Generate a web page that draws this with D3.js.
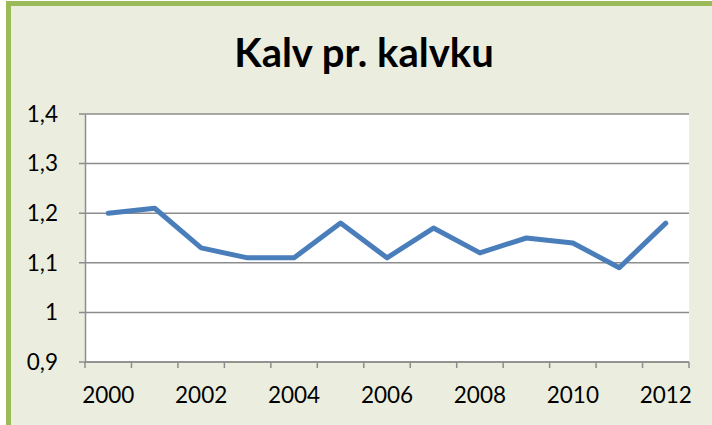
<!DOCTYPE html>
<html>
<head>
<meta charset="utf-8">
<script src="https://cdn.jsdelivr.net/npm/d3@7"></script>
<style>
  body { margin: 0; background: #fff; }
  svg { display: block; }
</style>
</head>
<body>
<div id="chart"></div>
<script>
var years = [2000, 2001, 2002, 2003, 2004, 2005, 2006, 2007, 2008, 2009, 2010, 2011, 2012];
var calves = [1.20, 1.21, 1.13, 1.11, 1.11, 1.18, 1.11, 1.17, 1.12, 1.15, 1.14, 1.09, 1.18];
var yTicks = [0.9, 1.0, 1.1, 1.2, 1.3, 1.4];
var title = "Kalv pr. kalvku";

var width = 712;
var height = 425;
var font = "Lato, 'Open Sans', sans-serif";

var margin = ({
    top: 114,
    right: 23,
    bottom: 63,
    left: 85
});

var svg = d3.select("#chart")
    .append("svg")
    .attr("width", width)
    .attr("height", height);

// chart area with green frame (cut off at right/bottom like the screenshot)
svg.append("rect")
    .attr("x", 8.5)
    .attr("y", 3.5)
    .attr("width", width + 20)
    .attr("height", height + 20)
    .attr("fill", "#ebeedf")
    .attr("stroke", "#9bbb59")
    .attr("stroke-width", 5);

var x = d3.scaleBand()
    .domain(years)
    .range([margin.left, width - margin.right]);

var y = d3.scaleLinear()
    .domain([0.9, 1.4])
    .range([height - margin.bottom, margin.top]);

var fmt = d => d3.format(".1f")(d).replace(".", ",").replace(",0", "");

// plot area
svg.append("rect")
    .attr("x", margin.left)
    .attr("y", margin.top)
    .attr("width", width - margin.left - margin.right)
    .attr("height", height - margin.top - margin.bottom)
    .attr("fill", "#fff");

// gridlines
svg.append("g")
    .selectAll("line")
    .data(yTicks)
    .enter().append("line")
        .attr("x1", margin.left - 6)
        .attr("x2", width - margin.right)
        .attr("y1", d => y(d))
        .attr("y2", d => y(d))
        .attr("stroke", "#8c8c8c")
        .attr("stroke-width", 1.5);

var yAxis = g => g
    .attr("transform", `translate(${margin.left}, 0)`)
    .call(d3.axisLeft(y).tickValues(yTicks).tickFormat(fmt).tickSize(0).tickPadding(27))
    .call(g => g.select(".domain").attr("stroke", "#8c8c8c").attr("stroke-width", 1.5))
    .call(g => g.selectAll("text")
        .attr("fill", "#000")
        .attr("font-family", font)
        .attr("font-size", 22.5));

// x axis: ticks at each category boundary, labels every other year
var edges = years.map(d => x(d)).concat([width - margin.right]);

var xAxis = g => g
    .attr("transform", `translate(0, ${height - margin.bottom})`)
    .call(g => g.append("line")
        .attr("x1", margin.left)
        .attr("x2", width - margin.right)
        .attr("stroke", "#8c8c8c")
        .attr("stroke-width", 1.5))
    .call(g => g.selectAll(".edge")
        .data(edges)
        .enter().append("line")
            .attr("class", "edge")
            .attr("x1", d => d)
            .attr("x2", d => d)
            .attr("y1", 0)
            .attr("y2", 6)
            .attr("stroke", "#8c8c8c")
            .attr("stroke-width", 1.5))
    .call(g => g.selectAll("text")
        .data(years.filter(d => d % 2 === 0))
        .enter().append("text")
            .attr("x", d => x(d) + x.bandwidth() / 2)
            .attr("y", 41)
            .attr("text-anchor", "middle")
            .attr("fill", "#000")
            .attr("font-family", font)
            .attr("font-size", 22.5)
            .text(d => d));

svg.append("g").call(yAxis);
svg.append("g").call(xAxis);

var line = d3.line()
    .x((d, i) => x(years[i]) + x.bandwidth() / 2)
    .y(d => y(d));

svg.append("path")
    .datum(calves)
    .attr("fill", "none")
    .attr("stroke", "#4a7ebb")
    .attr("stroke-width", 5)
    .attr("stroke-linejoin", "round")
    .attr("stroke-linecap", "round")
    .attr("d", line);

svg.append("text")
    .attr("x", 364)
    .attr("y", 67)
    .attr("text-anchor", "middle")
    .attr("font-family", font)
    .attr("font-weight", "bold")
    .attr("font-size", 40)
    .attr("fill", "#000")
    .text(title);
</script>
</body>
</html>
